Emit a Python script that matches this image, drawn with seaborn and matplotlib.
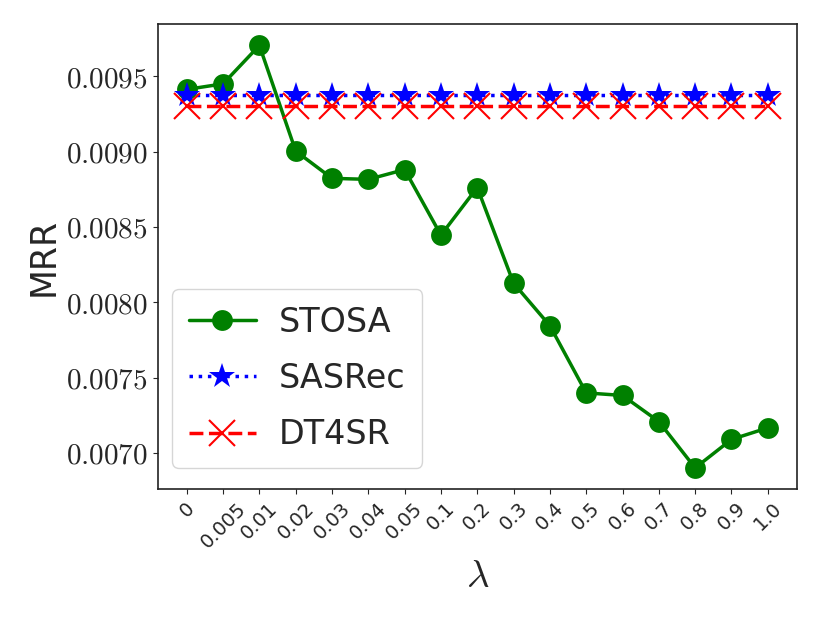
import numpy as np
import pandas as pd
import matplotlib
matplotlib.use("Agg")
import matplotlib.pyplot as plt
import seaborn as sns

# values
lambdas = ["0", "0.005", "0.01", "0.02", "0.03", "0.04", "0.05", "0.1", "0.2",
           "0.3", "0.4", "0.5", "0.6", "0.7", "0.8", "0.9", "1.0"]
stosa = [0.009412, 0.009449, 0.009704, 0.009003, 0.008822, 0.008815, 0.008880,
         0.008445, 0.008761, 0.008126, 0.007844, 0.007398, 0.007381, 0.007208,
         0.006900, 0.007089, 0.007166]
sasrec = [0.009378] * len(lambdas)
dt4sr = [0.009305] * len(lambdas)
yticks = [0.0070, 0.0075, 0.0080, 0.0085, 0.0090, 0.0095]

sns.set_style("ticks")
plt.rcParams["mathtext.fontset"] = "cm"
plt.rcParams["font.family"] = ["DejaVu Sans"]

pos = np.arange(len(lambdas))
df = pd.DataFrame({"pos": pos, "STOSA": stosa, "SASRec": sasrec, "DT4SR": dt4sr})

fig = plt.figure(figsize=(8.3, 6.23), dpi=100)
ax = fig.add_axes([0.19, 0.215, 0.77, 0.746])

sns.lineplot(data=df, x="pos", y="STOSA", ax=ax, color="green", marker="o",
             markersize=15, linewidth=2.5, label="STOSA",
             markeredgecolor="green", markeredgewidth=0)
sns.lineplot(data=df, x="pos", y="SASRec", ax=ax, color="blue", marker="*",
             markersize=19, linewidth=2.5, linestyle=":", label="SASRec",
             markeredgecolor="blue", markeredgewidth=0)
sns.lineplot(data=df, x="pos", y="DT4SR", ax=ax, color="red", marker="x",
             markersize=19, linewidth=2.5, linestyle=(0, (4, 1.6)), label="DT4SR",
             markeredgecolor="red", markeredgewidth=1.5)

ax.set_xticks(pos)
ax.set_xticklabels(lambdas, rotation=45, fontsize=14)
ax.set_yticks(yticks)
ax.set_yticklabels([f"${v:.4f}$" for v in yticks], fontsize=21)
ax.set_xlabel(r"$\lambda$", fontsize=28)
ax.set_ylabel("MRR", fontsize=25)

for s in ax.spines.values():
    s.set_visible(True)
    s.set_linewidth(1.2)
    s.set_color("#222222")

ax.legend(loc="lower left", fontsize=24, handlelength=2.0, handletextpad=0.7,
          borderpad=0.5, labelspacing=0.7, fancybox=True, framealpha=0.8,
          borderaxespad=0, bbox_to_anchor=(0.023, 0.045))

fig.savefig("out.png", dpi=100)
